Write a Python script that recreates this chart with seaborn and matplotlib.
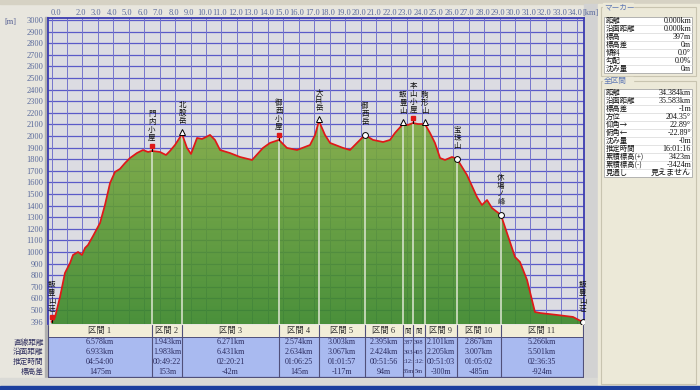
import matplotlib
matplotlib.use("Agg")
import matplotlib.pyplot as plt
from matplotlib.patches import Rectangle, PathPatch
from matplotlib.colors import LinearSegmentedColormap
import numpy as np
import seaborn as sns

# elevation profile (distance km, elevation m)
dist_km = [0.0, 0.23, 0.55, 0.87, 1.20, 1.39, 1.72, 1.97, 2.17, 2.36, 2.69, 3.14, 3.46, 3.79,
           4.11, 4.43, 4.76, 5.08, 5.53, 5.92, 6.25, 6.50, 7.02, 7.41, 7.67, 7.99, 8.45, 8.77,
           9.03, 9.42, 9.74, 10.00, 10.26, 10.58, 10.91, 11.55, 12.20, 12.98, 13.69, 14.14,
           14.72, 15.24, 15.89, 16.73, 17.06, 17.31, 17.70, 18.03, 18.87, 19.32, 19.77, 20.29,
           20.81, 21.46, 21.91, 22.23, 22.75, 23.07, 23.40, 23.72, 24.17, 24.50, 24.82, 25.15,
           25.47, 25.92, 26.25, 26.89, 27.54, 27.86, 28.19, 28.51, 29.09, 29.48, 30.00, 30.32,
           30.78, 31.29, 31.62, 32.72, 33.75, 34.384]
elev_m = [397, 440, 612, 819, 905, 974, 1000, 974, 1035, 1060, 1138, 1250, 1405, 1595,
          1690, 1716, 1767, 1810, 1853, 1879, 1862, 1871, 1862, 1836, 1871, 1922, 2017, 1897,
          1845, 1983, 1974, 1991, 2009, 1966, 1879, 1853, 1819, 1793, 1897, 1940,
          1966, 1897, 1879, 1922, 2009, 2129, 2009, 1940, 1897, 1879, 1940, 2009,
          1966, 1948, 1966, 2026, 2103, 2095, 2112, 2103, 2103, 2026, 1940, 1810,
          1793, 1819, 1802, 1664, 1474, 1405, 1448, 1379, 1319, 1164, 957, 914,
          759, 483, 474, 457, 440, 396]

marker_names = ["飯豊山荘", "門内小屋", "北股岳", "御西小屋", "大日岳", "御西岳", "飯豊山",
                "本山小屋", "駒形山", "宝珠山", "休場ノ峰", "飯豊山荘"]
marker_km = [0.0, 6.50, 8.45, 14.72, 17.31, 20.29, 22.75, 23.40, 24.17, 26.25, 29.09, 34.384]
marker_m = [397, 1871, 2017, 1966, 2129, 2009, 2103, 2112, 2103, 1802, 1319, 396]
marker_kind = ["hut", "hut", "peak", "hut", "peak", "point", "peak", "hut", "peak",
               "point", "point", "point"]

# sections 7 and 8 are too narrow, only the visible part of their text is shown
section_names = ["区間 1", "区間 2", "区間 3", "区間 4", "区間 5", "区間 6", "間", "間",
                 "区間 9", "区間 10", "区間 11"]
straight_dist = ["6.578km", "1.943km", "6.271km", "2.574km", "3.003km", "2.395km",
                 "387", "398", "2.101km", "2.867km", "5.266km"]
surface_dist = ["6.933km", "1.983km", "6.431km", "2.634km", "3.067km", "2.424km",
                "393", "405", "2.205km", "3.007km", "5.501km"]
est_time = ["04:54:00", "00:49:22", "02:20:21", "01:06:25", "01:01:57", "00:51:56",
            ":12:", ":12:", "00:51:03", "01:05:02", "02:36:35"]
elev_diff = ["1475m", "153m", "-42m", "145m", "-117m", "94m", "35m", "5m", "-300m",
             "-485m", "-924m"]
row_labels = ["直線距離", "沿面距離", "推定時間", "標高差"]

marker_panel_labels = ["距離", "沿面距離", "標高", "標高差", "傾斜", "勾配", "沈み量"]
marker_panel_values = ["0.000km", "0.000km", "397m", "0m", "0.0°", "0.0%", "0m"]
total_labels = ["距離", "沿面距離", "標高差", "方位", "仰角→", "俯角←", "沈み量", "推定時間",
                "累積標高(+)", "累積標高(-)", "見通し"]
total_values = ["34.384km", "35.583km", "-1m", "204.35°", "22.89°", "-22.89°", "-0m",
                "16:01:16", "3423m", "-3424m", "見えません"]

x_ticks = [0] + list(range(2, 35))
y_ticks = [396] + list(range(500, 3001, 100))

sns.set_style("white")
plt.rcParams["font.family"] = ["Liberation Serif", "Noto Sans CJK JP", "DejaVu Sans"]
JP = ["Noto Sans CJK JP", "DejaVu Sans"]

W, H = 700, 390


def frac(x0, y0, x1, y1):
    return [x0 / W, 1 - y1 / H, (x1 - x0) / W, (y1 - y0) / H]


fig = plt.figure(figsize=(7, 3.9), dpi=100)
fig.patch.set_facecolor("#e8e6de")

# background layer in pixel coordinates
bg = fig.add_axes([0, 0, 1, 1])
bg.set_xlim(0, W)
bg.set_ylim(H, 0)
bg.axis("off")
bg.set_zorder(0)
bg.add_patch(Rectangle((0, 0), W, 4, color="#d6d2c4"))
bg.add_patch(Rectangle((44.5, 17), 3, 361, color="#b0b0b0"))
bg.add_patch(Rectangle((584, 4), 14, 382, color="#d2d2d2"))
bg.add_patch(Rectangle((0, 378), 598, 8, color="#dadad6"))
bg.add_patch(Rectangle((598, 4), 102, 382, color="#ece9d8"))
bg.add_patch(Rectangle((0, 386), W, 4, color="#1c3f9e"))
bg.text(10, 22, "[m]", fontsize=6, color="#505a90", ha="center", va="center")


# right side panel
def panel_group(title, y_title, labels, values, y0, y_end):
    bg.add_patch(Rectangle((600.5, y_title), 95, y_end - y_title, fill=False,
                           ec="#c8c4b0", lw=0.8))
    bg.add_patch(Rectangle((603, y_title - 4), 30, 8, color="#ece9d8"))
    bg.text(604, y_title, title, fontsize=5.5, color="#5f78b4", va="center", family=JP)
    n = len(labels)
    bg.add_patch(Rectangle((604, y0 - 4), 88, 8 * n, fc="white", ec="#a8a8a8", lw=0.6))
    for i, (lab, val) in enumerate(zip(labels, values)):
        yy = y0 + 8 * i
        if i > 0:
            bg.plot([604, 692], [yy - 4, yy - 4], color="#d8d8d8", lw=0.5)
        bg.text(606, yy, lab, fontsize=5.3, va="center", family=JP, color="#101010")
        bg.text(691, yy, val, fontsize=5.8, va="center", ha="right", color="#101010")


panel_group("マーカー", 7, marker_panel_labels, marker_panel_values, 21, 76)
panel_group("全区間", 81, total_labels, total_values, 93, 384)

# main profile axes
xmin, xmax = -0.227, 34.466
ymin, ymax = 379, 3017
ax = fig.add_axes(frac(48, 18, 584, 324))
ax.set_zorder(1)
ax.set_facecolor("#dcdce2")

for yv in range(500, 3001, 100):
    ax.axhline(yv, color="#5a5ac8", lw=0.9, zorder=1)
for xv in range(0, 35):
    ax.axvline(xv, color="#7474cc", lw=0.7, zorder=1)

grad = np.linspace(0, 1, 256).reshape(-1, 1)
cmap = LinearSegmentedColormap.from_list("ground", ["#3a8828", "#7eaa3e"])
im = ax.imshow(grad, extent=[xmin, xmax, ymin, 2150], origin="lower", aspect="auto",
               cmap=cmap, alpha=0.9, zorder=2)
poly = ax.fill_between(dist_km, elev_m, ymin, color="none", lw=0)
clip = PathPatch(poly.get_paths()[0], transform=ax.transData, fc="none", ec="none")
ax.add_patch(clip)
im.set_clip_path(clip)

ax.vlines(marker_km[1:-1], ymin, marker_m[1:-1], color="#d4e0c8", lw=1.2, zorder=3)

sns.lineplot(x=dist_km, y=elev_m, color="#e01818", lw=1.25, ax=ax, zorder=4)

for name, k, m, kind in zip(marker_names, marker_km, marker_m, marker_kind):
    if kind == "hut":
        ax.plot([k, k], [m, m + 40], color="black", lw=0.8, zorder=5)
        ax.plot(k, m + 45, "s", color="#e01818", ms=2.2, zorder=5)
    elif kind == "peak":
        ax.plot(k, m + 15, "^", mfc="white", mec="black", mew=0.7, ms=5, zorder=5)
    else:
        ax.plot(k, m, "o", mfc="white", mec="black", mew=0.7, ms=4.2, zorder=5)
    ax.annotate("\n".join(name), (k, m), xytext=(0, 6.5), textcoords="offset points",
                ha="center", va="bottom", fontsize=5.4, linespacing=1.0, family=JP,
                color="#111111", zorder=6)

ax.set_xlim(xmin, xmax)
ax.set_ylim(ymin, ymax)
ax.set_xlabel("")
ax.set_ylabel("")
ax.set_xticks([])
ax.set_yticks(y_ticks)
ax.set_yticklabels([str(v) for v in y_ticks], fontsize=6, color="#5a6a9c")
ax.tick_params(axis="y", length=0, pad=3.5)
for k in x_ticks:
    kx = 0.3 if k == 0 else k - 0.1
    ax.annotate("%.1f" % k, (kx, 1), xycoords=("data", "axes fraction"), xytext=(0, 3.8),
                textcoords="offset points", ha="center", va="center", fontsize=6,
                color="#5a6a9c", annotation_clip=False)
ax.annotate("[km]", (1, 1), xycoords="axes fraction", xytext=(4.5, 3.8),
            textcoords="offset points", ha="center", va="center", fontsize=6,
            color="#5a6a9c", annotation_clip=False)
for side in ["top", "left", "right"]:
    ax.spines[side].set_color("#3c3cb0")
    ax.spines[side].set_linewidth(1.3)
ax.spines["bottom"].set_visible(False)

# section table
tab = fig.add_axes(frac(48, 324, 584, 378))
tab.set_zorder(1)
tab.set_xlim(xmin, xmax)
tab.set_ylim(54, 0)
tab.axis("off")
edges = [xmin] + marker_km[1:-1] + [marker_km[-1]]
tab.add_patch(Rectangle((edges[0], 1), edges[-1] - edges[0], 12, fc="#f2eed8", ec="none"))
tab.add_patch(Rectangle((edges[0], 13), edges[-1] - edges[0], 40, fc="#a9baf0", ec="none"))
tab.plot([edges[0], edges[-1]], [13, 13], color="#50507a", lw=0.7)
tab.plot([edges[0], edges[-1]], [53, 53], color="#50507a", lw=0.9)
for e in edges:
    tab.plot([e, e], [1, 53], color="#50507a", lw=0.8)
row_y = [18.5, 28, 37.5, 47.5]
for i in range(11):
    e0, e1 = edges[i], edges[i + 1]
    cx = (e0 + e1) / 2
    narrow = (e1 - e0) < 1.0
    fs = 4.6 if narrow else 5.8
    tab.text(cx, 7, section_names[i], ha="center", va="center", fontsize=fs if narrow else 6,
             color="#333333", family=JP if narrow else None)
    vals = [straight_dist[i], surface_dist[i], est_time[i], elev_diff[i]]
    for yy, v in zip(row_y, vals):
        tab.text(cx, yy, v, ha="center", va="center", fontsize=fs, color="#2a2a5e")
for yy, lab in zip(row_y, row_labels):
    bg.text(43.5, 324 + yy, lab, ha="right", va="center", fontsize=5.5, family=JP,
            color="#303060")

fig.savefig("out.png", dpi=100)
